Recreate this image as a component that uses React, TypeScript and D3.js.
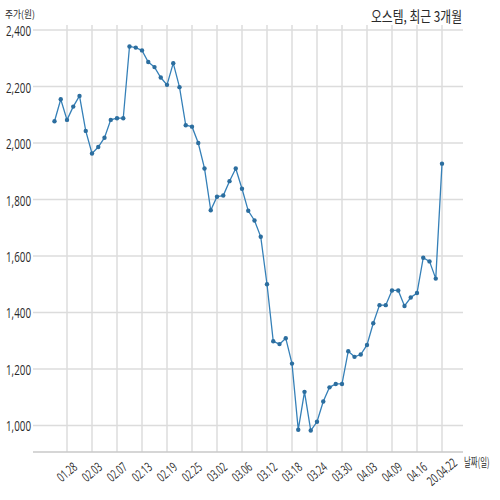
import React from "react";
import * as d3 from "d3";

const dates: string[] = [
  "01.22","01.23","01.28","01.29","01.30","01.31","02.03","02.04","02.05","02.06","02.07",
  "02.10","02.11","02.12","02.13","02.14","02.17","02.18","02.19","02.20","02.21","02.24","02.25",
  "02.26","02.27","02.28","03.02","03.03","03.04","03.05","03.06","03.09","03.10","03.11","03.12",
  "03.13","03.16","03.17","03.18","03.19","03.20","03.23","03.24","03.25","03.26","03.27","03.30",
  "03.31","04.01","04.02","04.03","04.06","04.07","04.08","04.09","04.10","04.13","04.14","04.16",
  "04.17","04.20","04.21","04.22"
];

const prices: number[] = [
  2077, 2155, 2082, 2129, 2167, 2043, 1963, 1986, 2019, 2082, 2088,
  2088, 2342, 2338, 2328, 2287, 2269, 2232, 2206, 2283, 2198, 2063, 2058,
  2000, 1910, 1762, 1810, 1814, 1865, 1910, 1838, 1760, 1726, 1668, 1500,
  1298, 1288, 1309, 1219, 985, 1119, 982, 1013, 1085, 1135, 1147, 1147,
  1263, 1243, 1251, 1285, 1362, 1426, 1426, 1478, 1478, 1423, 1453, 1469,
  1594, 1581, 1520, 1927
];

const xTickLabels: string[] = [
  "01.28","02.03","02.07","02.13","02.19","02.25","03.02","03.06",
  "03.12","03.18","03.24","03.30","04.03","04.09","04.16","20.04.22"
];
const xTickIndex: number[] = [2,6,10,14,18,22,26,30,34,38,42,46,50,54,58,62];

const yTicks: number[] = [1000, 1200, 1400, 1600, 1800, 2000, 2200, 2400];

const title = "오스템, 최근 3개월";
const yTitle = "주가(원)";
const xTitle = "날짜(일)";

export default function App() {
  const W = 500, H = 500;
  const left = 33, right = 463, top = 25, bottom = 452;
  const x = d3.scaleLinear().domain([-3.44, 65.36]).range([left, right]);
  const y = d3.scaleLinear().domain([906, 2418]).range([bottom, top]);
  const line = d3
    .line<number>()
    .x((_, i) => x(i))
    .y((d) => y(d));
  const fmt = d3.format(",");
  const font = "'Noto Sans CJK KR', 'Noto Sans', sans-serif";
  const numFont = "'Open Sans', 'Noto Sans', sans-serif";
  const lineColor = "#3580b8";
  const dotColor = "#2c6e9f";

  return (
    <div style={{ position: "absolute", left: 0, top: 0, width: W, height: H, background: "#fff" }}>
      <svg width={W} height={H} style={{ display: "block" }}>
        <rect width={W} height={H} fill="#fff" />
        {yTicks.map((t) => (
          <line key={"hy" + t} x1={left} x2={right} y1={y(t)} y2={y(t)} stroke="#dcdcdc" strokeWidth={1.5} />
        ))}
        {xTickIndex.map((i) => (
          <line key={"vx" + i} x1={x(i)} x2={x(i)} y1={top} y2={bottom} stroke="#dcdcdc" strokeWidth={1.5} />
        ))}
        <line x1={left} x2={right} y1={bottom} y2={bottom} stroke="#c8c8c8" strokeWidth={1.5} />
        {yTicks.map((t) => {
          const s = fmt(t);
          return (
            <text
              key={"yl" + t}
              x={31}
              y={y(t) + 6}
              textAnchor="end"
              fontFamily={numFont}
              fontSize={14}
              fill="#2a2a2a"
              textLength={25}
              lengthAdjust="spacingAndGlyphs"
            >
              {s}
            </text>
          );
        })}
        {xTickIndex.map((i, k) => {
          const s = xTickLabels[k];
          const len = s.length * 4.3;
          return (
            <text
              key={"xl" + i}
              transform={`translate(${x(i)},${472}) rotate(-40)`}
              textAnchor="middle"
              dy="0.35em"
              fontFamily={numFont}
              fontSize={13}
              fill="#2a2a2a"
              textLength={len}
              lengthAdjust="spacingAndGlyphs"
            >
              {s}
            </text>
          );
        })}
        <path d={line(prices) || ""} fill="none" stroke={lineColor} strokeWidth={1.3} />
        {prices.map((p, i) => (
          <circle key={"c" + i} cx={x(i)} cy={y(p)} r={2.2} fill={dotColor} />
        ))}
        <text x={462} y={22} textAnchor="end" fontFamily={font} fontSize={15} fill="#2a2a2a" textLength={91} lengthAdjust="spacingAndGlyphs">
          {title}
        </text>
        <text x={5} y={18} fontFamily={font} fontSize={10} fill="#2a2a2a" textLength={30} lengthAdjust="spacingAndGlyphs">
          {yTitle}
        </text>
        <text transform="translate(464,467) scale(0.62,1)" fontFamily={font} fontSize={12} fill="#2a2a2a">
          {xTitle}
        </text>
      </svg>
    </div>
  );
}
